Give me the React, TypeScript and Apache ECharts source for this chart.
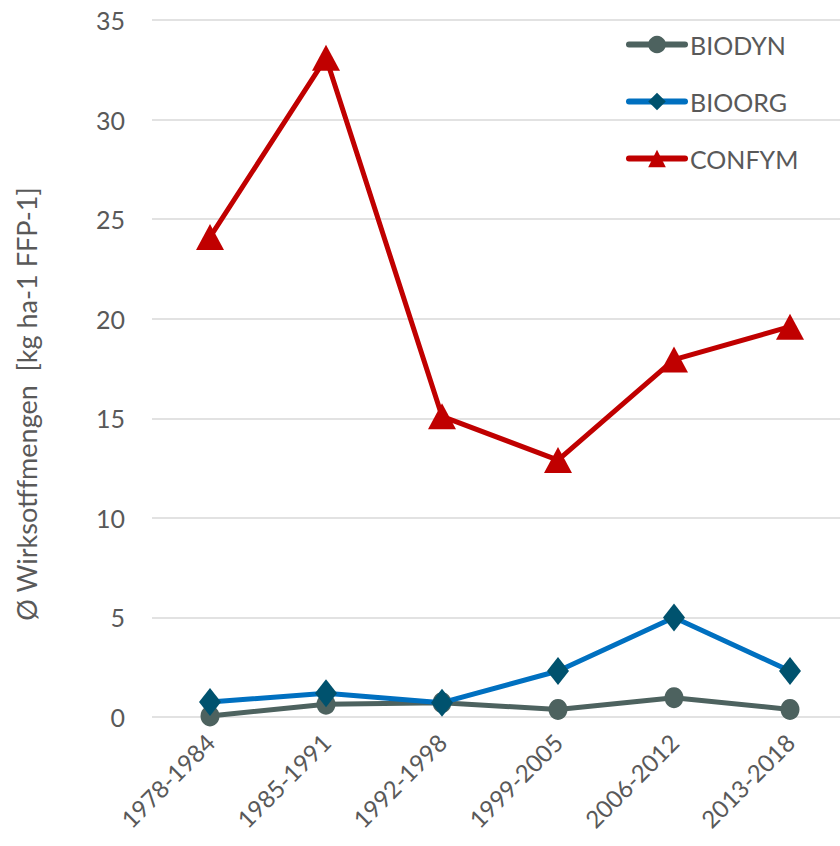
import React, { useEffect, useRef } from "react";
import * as echarts from "echarts";

const categories = ["1978-1984", "1985-1991", "1992-1998", "1999-2005", "2006-2012", "2013-2018"];
const biodyn = [0.05, 0.64, 0.72, 0.38, 0.97, 0.38];
const bioorg = [0.75, 1.19, 0.72, 2.31, 5.0, 2.31];
const confym = [24.1, 33.1, 15.1, 12.9, 17.95, 19.6];
const yTicks = [0, 5, 10, 15, 20, 25, 30, 35];
const yAxisTitle = "Ø Wirksotffmengen  [kg ha-1 FFP-1]";

const FONT = "Lato, 'Open Sans', sans-serif";
const TXT = "#595959";

export default function App() {
  const ref = useRef<HTMLDivElement>(null);
  useEffect(() => {
    if (!ref.current) return;
    const chart = echarts.init(ref.current, undefined, { renderer: "svg" });
    chart.setOption({
      animation: false,
      backgroundColor: "#ffffff",
      textStyle: { fontFamily: FONT, color: TXT },
      grid: { left: 152, top: 20, width: 696, height: 697 },
      legend: {
        orient: "vertical",
        left: 621,
        top: 27,
        itemWidth: 56,
        itemHeight: 22,
        itemGap: 32,
        lineStyle: { width: 6, cap: "round" },
        textStyle: { fontSize: 25, color: TXT, fontFamily: FONT },
        data: ["BIODYN", "BIOORG", "CONFYM"],
      },
      xAxis: {
        type: "category",
        data: categories,
        boundaryGap: true,
        axisLine: { show: false },
        axisTick: { show: false },
        axisLabel: { rotate: 45, fontSize: 24, color: TXT, margin: 21, fontFamily: FONT },
      },
      yAxis: {
        type: "value",
        min: yTicks[0],
        max: yTicks[yTicks.length - 1],
        interval: 5,
        axisLine: { show: false },
        axisTick: { show: false },
        axisLabel: { fontSize: 25, color: TXT, margin: 27, fontFamily: FONT },
        splitLine: { lineStyle: { color: "#d9d9d9", width: 1.5 } },
      },
      graphic: [
        {
          type: "text",
          x: 26,
          y: 404,
          rotation: Math.PI / 2,
          style: {
            text: yAxisTitle,
            fontSize: 27,
            fill: TXT,
            fontFamily: FONT,
            align: "center",
            verticalAlign: "middle",
          },
        },
      ],
      series: [
        {
          name: "BIODYN",
          type: "line",
          data: biodyn,
          symbol: "circle",
          symbolSize: [19, 21],
          lineStyle: { color: "#4D625F", width: 5 },
          itemStyle: { color: "#4D625F" },
          z: 2,
        },
        {
          name: "BIOORG",
          type: "line",
          data: bioorg,
          symbol: "diamond",
          symbolSize: [22, 28],
          lineStyle: { color: "#0070C0", width: 5 },
          itemStyle: { color: "#00526E" },
          z: 3,
        },
        {
          name: "CONFYM",
          type: "line",
          data: confym,
          symbol: "triangle",
          symbolSize: [28, 26],
          lineStyle: { color: "#C00000", width: 5 },
          itemStyle: { color: "#C00000" },
          z: 4,
        },
      ],
    });
    return () => chart.dispose();
  }, []);
  return (
    <div style={{ position: "fixed", left: 0, top: 0, width: 840, height: 846, overflow: "hidden", background: "#fff" }}>
      <div ref={ref} style={{ width: 860, height: 846 }} />
    </div>
  );
}
